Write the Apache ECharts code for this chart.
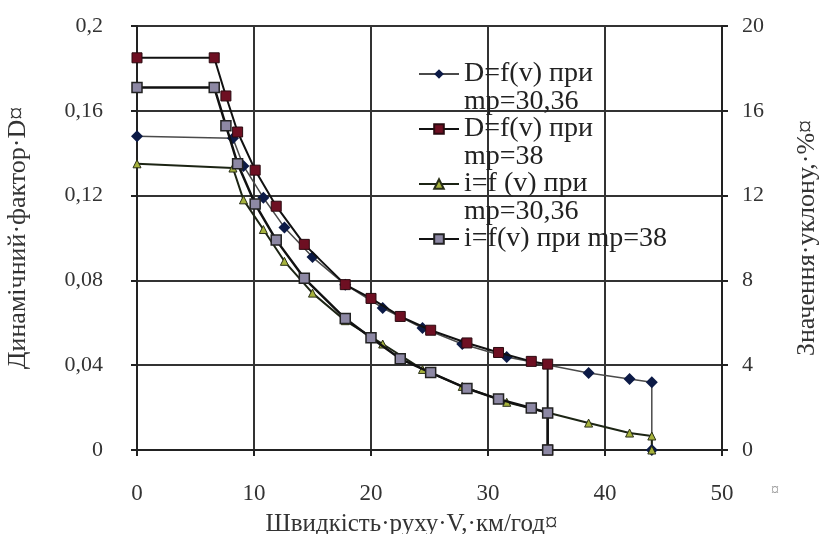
<!DOCTYPE html>
<html>
<head>
<meta charset="utf-8">
<script src="https://cdn.jsdelivr.net/npm/echarts@6/dist/echarts.min.js"></script>
<style>
  html, body { margin: 0; padding: 0; background: #fff; }
  #chart { width: 822px; height: 534px; }
</style>
</head>
<body>
<div id="chart"></div>
<script>
// швидкість, км/год (спільні для D та i при однаковій масі)
const vMp3036 = [0, 8.2, 9.1, 10.8, 12.6, 15.0, 17.8, 21.0, 24.4, 27.8, 31.6, 38.6, 42.1, 44.0, 44.0]
const vMp38 = [0, 6.6, 7.6, 8.6, 10.1, 11.9, 14.3, 17.8, 20.0, 22.5, 25.1, 28.2, 30.9, 33.7, 35.1, 35.1]

// динамічний фактор D
const dMp3036 = [0.148, 0.147, 0.134, 0.119, 0.105, 0.091, 0.078, 0.067, 0.0575, 0.050, 0.0439, 0.0363, 0.0335, 0.032, 0]
const dMp38 = [0.185, 0.185, 0.167, 0.150, 0.132, 0.115, 0.097, 0.078, 0.0715, 0.063, 0.0565, 0.0505, 0.046, 0.0418, 0.0405, 0]

// уклон i, %
const iMp3036 = [13.5, 13.3, 11.8, 10.4, 8.9, 7.4, 6.1, 5.0, 3.8, 3.0, 2.25, 1.27, 0.8, 0.66, 0]
const iMp38 = [17.1, 17.1, 15.3, 13.5, 11.6, 9.9, 8.1, 6.2, 5.3, 4.3, 3.65, 2.9, 2.4, 1.98, 1.75, 0]

const seriesNames = [
  'D=f(v) при\nmp=30,36',
  'D=f(v) при\nmp=38',
  'i=f (v) при\nmp=30,36',
  'i=f(v) при mp=38'
]

const xTicks = [0, 10, 20, 30, 40, 50]

const FONT = '"Liberation Serif", "DejaVu Serif", serif'

const toPairs = (xs, ys) => xs.map((x, k) => [x, ys[k]])

const chart = echarts.init(document.getElementById('chart'))

const option = {
  backgroundColor: '#fff',
  animation: false,
  textStyle: { fontFamily: FONT },
  grid: { left: 137, right: 100, top: 26, bottom: 84, outerBoundsMode: 'none', containLabel: false },
  legend: {
    orient: 'vertical',
    left: 413,
    top: 27,
    itemWidth: 40,
    itemHeight: 12,
    itemGap: -29,
    // порожній рядок зверху, щоб значок стояв навпроти першого рядка підпису
    formatter: (name) => name.includes('\n') ? '\n' + name : '\n' + name + '\n',
    textStyle: { fontFamily: FONT, fontSize: 28, color: '#222', lineHeight: 28 },
    data: seriesNames
  },
  xAxis: {
    type: 'value',
    min: xTicks[0],
    max: xTicks[xTicks.length - 1],
    interval: 10,
    name: 'Швидкість·руху·V,·км/год¤',
    nameLocation: 'middle',
    nameGap: 62,
    nameTextStyle: { fontFamily: FONT, fontSize: 25, color: '#333', padding: [0, 36, 0, 0] },
    axisLine: { lineStyle: { color: '#222', width: 2 } },
    axisTick: { show: true, length: 6, lineStyle: { color: '#222', width: 2 } },
    axisLabel: { margin: 32, fontFamily: FONT, fontSize: 23, color: '#333' },
    splitLine: { show: true, lineStyle: { color: '#333', width: 2 } }
  },
  yAxis: [
    {
      type: 'value',
      min: 0,
      max: 0.2,
      interval: 0.04,
      name: 'Динамічний·фактор·D¤',
      nameLocation: 'middle',
      nameGap: 106,
      nameTextStyle: { fontFamily: FONT, fontSize: 26, color: '#333' },
      axisLine: { show: true, lineStyle: { color: '#222', width: 2 } },
      axisTick: { show: true, length: 6, lineStyle: { color: '#222', width: 2 } },
      axisLabel: {
        margin: 34, fontFamily: FONT, fontSize: 22, color: '#333',
        formatter: (v) => String(parseFloat(v.toFixed(2))).replace('.', ',')
      },
      splitLine: { show: true, lineStyle: { color: '#333', width: 2 } }
    },
    {
      type: 'value',
      min: 0,
      max: 20,
      interval: 4,
      name: 'Значення·уклону,·%¤',
      nameLocation: 'middle',
      nameGap: 72,
      nameTextStyle: { fontFamily: FONT, fontSize: 26, color: '#333' },
      axisLine: { show: true, lineStyle: { color: '#222', width: 2 } },
      axisTick: { show: true, length: 6, lineStyle: { color: '#222', width: 2 } },
      axisLabel: { margin: 20, fontFamily: FONT, fontSize: 22, color: '#333' },
      splitLine: { show: false }
    }
  ],
  graphic: [
    {
      type: 'text',
      left: 771,
      top: 483,
      style: { text: '¤', font: '16px ' + FONT, fill: '#999' }
    }
  ],
  series: [
    {
      name: seriesNames[0],
      type: 'line',
      yAxisIndex: 0,
      data: toPairs(vMp3036, dMp3036),
      symbol: 'diamond',
      symbolSize: 12,
      lineStyle: { color: '#4a4a4a', width: 1.5 },
      itemStyle: { color: '#0c1a46', borderColor: '#0c1a46', borderWidth: 0 },
      z: 3
    },
    {
      name: seriesNames[1],
      type: 'line',
      yAxisIndex: 0,
      data: toPairs(vMp38, dMp38),
      symbol: 'rect',
      symbolSize: 10,
      lineStyle: { color: '#111', width: 2 },
      itemStyle: { color: '#6e0f22', borderColor: '#2a0a10', borderWidth: 1 },
      z: 4
    },
    {
      name: seriesNames[2],
      type: 'line',
      yAxisIndex: 1,
      data: toPairs(vMp3036, iMp3036),
      symbol: 'triangle',
      symbolSize: 8,
      lineStyle: { color: '#1c2414', width: 2 },
      itemStyle: { color: '#a6b23c', borderColor: '#2a3018', borderWidth: 1 },
      z: 3
    },
    {
      name: seriesNames[3],
      type: 'line',
      yAxisIndex: 1,
      data: toPairs(vMp38, iMp38),
      symbol: 'rect',
      symbolSize: 10,
      lineStyle: { color: '#111', width: 2.5 },
      itemStyle: { color: '#8d88a4', borderColor: '#222', borderWidth: 1.5 },
      z: 4
    }
  ]
}

chart.setOption(option)
window.addEventListener('resize', () => chart.resize())
</script>
</body>
</html>
